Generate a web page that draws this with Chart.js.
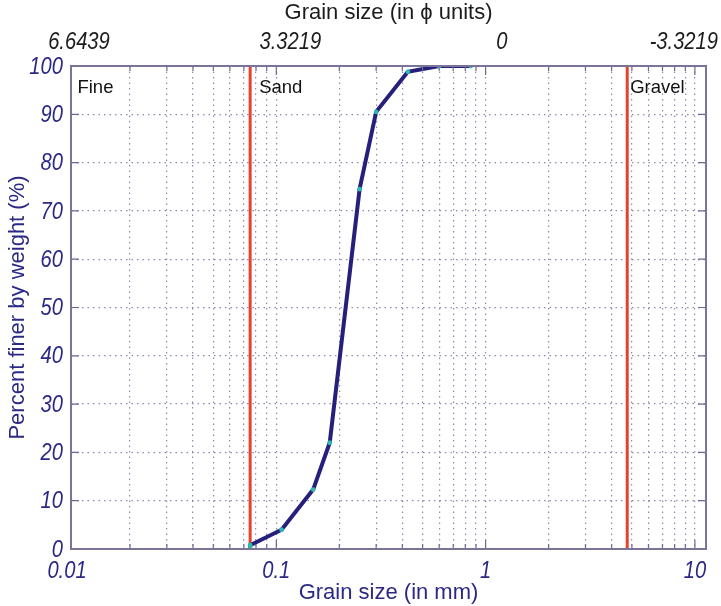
<!DOCTYPE html>
<html>
<head>
<meta charset="utf-8">
<script src="https://cdn.jsdelivr.net/npm/chart.js@4.4.1/dist/chart.umd.min.js"></script>
<style>
  html, body { margin: 0; padding: 0; background: #fff; }
  #wrap { width: 721px; height: 606px; }
</style>
</head>
<body>
<div id="wrap"><canvas id="grainChart" width="721" height="606"></canvas></div>
<script>
// sieve analysis: grain size (mm) vs cumulative percent finer
const sizeMm = [0.075, 0.075, 0.106, 0.15, 0.18, 0.25, 0.3, 0.425, 0.6, 0.85];
const percentFiner = [0, 0.8, 4, 12.3, 22, 74.5, 90.5, 98.8, 100, 100];

// class boundaries and zone names
const boundaryMm = [0.075, 4.75];
const zoneNames = ["Fine", "Sand", "Gravel"];
const zoneStartMm = [0.0105, 0.075, 4.75];
const zoneGap = [6, 9, 3];

// labelled decades on the mm axis
const decadeTicks = [0.01, 0.1, 1, 10];
const decadeLabels = ["0.01", "0.1", "1", "10"];
const yTicks = [0, 10, 20, 30, 40, 50, 60, 70, 80, 90, 100];

// axis limits
const xMin = 0.01045, xMax = 11.3;
const phiMin = 0.00917, phiMax = 9.24;

const navy = "#2b2886";
const gridColor = "rgba(118,106,150,0.8)";
const titleFont = "22px 'Liberation Sans', Arial, sans-serif";
const tickFont = "italic 24px 'Liberation Sans', Arial, sans-serif";
const squeeze = 0.84;

// every 1..9 multiple inside the decades, for the log grid
const minorTicks = [];
decadeTicks.slice(0, -1).forEach(d => {
  for (let m = 1; m <= 9; m++) minorTicks.push(+(m * d).toPrecision(3));
});
minorTicks.push(10);
const gridTicks = minorTicks.filter(v => v > xMin && v < xMax);

const phiLabels = decadeTicks.map(d => String(Number((-Math.log2(d)).toFixed(4))));

const boundarySets = boundaryMm.map(b => ({
  data: [{ x: b, y: 0 }, { x: b, y: 100 }],
  borderColor: "#e4432d",
  borderWidth: 3,
  pointRadius: 0,
  order: 2
}));

function narrowText(ctx, text, x, y, align) {
  ctx.save();
  ctx.translate(x, y);
  ctx.scale(squeeze, 1);
  ctx.textAlign = align;
  ctx.textBaseline = "middle";
  ctx.fillText(text, 0, 0);
  ctx.restore();
}

// frame, inward ticks, tick labels, titles and zone names
const framePlugin = {
  id: "frame",
  afterDraw(chart) {
    const { ctx, chartArea: a, scales, width } = chart;
    ctx.save();
    ctx.strokeStyle = "#6f6890";
    ctx.lineWidth = 1.2;
    gridTicks.forEach(v => {
      const px = scales.x.getPixelForValue(v);
      const len = decadeTicks.includes(v) ? 9 : 5;
      ctx.beginPath();
      ctx.moveTo(px, a.bottom); ctx.lineTo(px, a.bottom - len);
      ctx.moveTo(px, a.top); ctx.lineTo(px, a.top + len);
      ctx.stroke();
    });
    yTicks.forEach(v => {
      const py = scales.y.getPixelForValue(v);
      ctx.beginPath();
      ctx.moveTo(a.left, py); ctx.lineTo(a.left + 8, py);
      ctx.moveTo(a.right, py); ctx.lineTo(a.right - 8, py);
      ctx.stroke();
    });
    ctx.lineWidth = 2;
    ctx.strokeStyle = "#7a7498";
    ctx.strokeRect(a.left, a.top, a.right - a.left, a.bottom - a.top);

    // tick labels
    ctx.font = tickFont;
    ctx.fillStyle = navy;
    yTicks.forEach(v => narrowText(ctx, String(v), a.left - 8, scales.y.getPixelForValue(v) + 1, "right"));
    decadeTicks.forEach((d, i) => narrowText(ctx, decadeLabels[i], scales.x.getPixelForValue(d), a.bottom + 22, "center"));
    ctx.fillStyle = "#1c1c1c";
    decadeTicks.forEach((d, i) => {
      const w = ctx.measureText(phiLabels[i]).width * squeeze;
      const px = Math.min(scales.xTop.getPixelForValue(d), width - 3 - w / 2);
      narrowText(ctx, phiLabels[i], px, a.top - 24, "center");
    });

    // axis titles
    ctx.font = titleFont;
    ctx.textAlign = "center";
    ctx.textBaseline = "middle";
    const cx = (a.left + a.right) / 2;
    ctx.fillStyle = navy;
    ctx.fillText("Grain size (in mm)", cx, a.bottom + 44);
    ctx.fillStyle = "#1c1c1c";
    ctx.fillText("Grain size (in \u03d5 units)", cx, a.top - 53);
    ctx.save();
    ctx.translate(18, (a.top + a.bottom) / 2);
    ctx.rotate(-Math.PI / 2);
    ctx.fillStyle = navy;
    ctx.fillText("Percent finer by weight (%)", 0, 0);
    ctx.restore();

    // zone names
    ctx.fillStyle = "#111";
    ctx.font = "18.5px 'Liberation Sans', Arial, sans-serif";
    ctx.textAlign = "left";
    zoneNames.forEach((name, i) => {
      const px = scales.x.getPixelForValue(zoneStartMm[i]);
      ctx.fillText(name, px + zoneGap[i], scales.y.getPixelForValue(95.4));
    });
    ctx.restore();
  }
};

new Chart(document.getElementById("grainChart"), {
  type: "line",
  data: {
    datasets: [
      {
        data: sizeMm.map((s, i) => ({ x: s, y: percentFiner[i] })),
        borderColor: "#25207c",
        borderWidth: 4,
        pointRadius: 2.4,
        pointBackgroundColor: "#2fb8b2",
        pointBorderWidth: 0,
        order: 1
      },
      ...boundarySets
    ]
  },
  options: {
    responsive: false,
    animation: false,
    layout: { padding: { left: 0, right: 15, top: 0, bottom: 0 } },
    plugins: { legend: { display: false }, tooltip: { enabled: false } },
    scales: {
      x: {
        type: "logarithmic",
        position: "bottom",
        min: xMin, max: xMax,
        afterBuildTicks: s => { s.ticks = gridTicks.map(v => ({ value: v })); },
        afterFit: s => { s.height = 57; },
        ticks: { display: false, autoSkip: false },
        grid: { color: gridColor, lineWidth: 1.2, drawTicks: false },
        border: { display: false, dash: [1.5, 4] }
      },
      xTop: {
        type: "logarithmic",
        position: "top",
        min: phiMin, max: phiMax,
        afterFit: s => { s.height = 66; },
        ticks: { display: false },
        grid: { display: false, drawTicks: false },
        border: { display: false }
      },
      y: {
        min: 0, max: 100,
        afterBuildTicks: s => { s.ticks = yTicks.map(v => ({ value: v })); },
        afterFit: s => { s.width = 71; },
        ticks: { display: false },
        grid: { color: gridColor, lineWidth: 1.2, drawTicks: false },
        border: { display: false, dash: [1.5, 4] }
      }
    }
  },
  plugins: [framePlugin]
});
</script>
</body>
</html>
